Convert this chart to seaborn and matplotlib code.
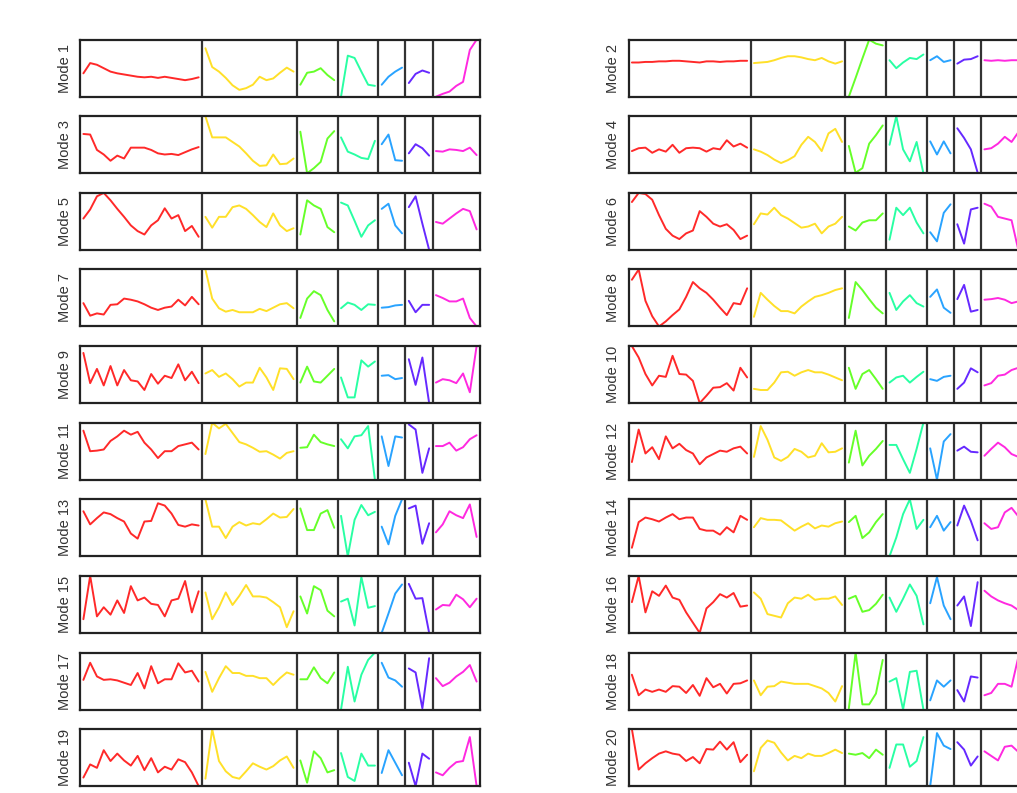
import matplotlib
matplotlib.use("Agg")
import matplotlib.pyplot as plt
import numpy as np
import pandas as pd
import seaborn as sns

# points per block, left to right
segment_sizes = [18, 14, 6, 6, 4, 4, 7]
segment_names = ["A", "B", "C", "D", "E", "F", "G"]

# values, 0 = bottom of the panel, 100 = top
mode_01 = [41, 59, 56, 50, 44, 41, 39, 37, 35, 34, 35, 33, 35, 33, 31, 29, 31, 34,
           85, 52, 44, 33, 20, 12, 15, 21, 35, 29, 32, 42, 51, 44,
           21, 42, 44, 50, 38, 29,
           0, 72, 68, 44, 21, 19,
           21, 35, 44, 51,
           24, 40, 46, 42,
           0, 5, 9, 19, 26, 82, 100]
mode_02 = [60, 60, 61, 61, 62, 62, 63, 63, 62, 61, 60, 62, 62, 61, 62, 62, 63, 63,
           59, 60, 61, 64, 68, 71, 71, 69, 66, 64, 68, 62, 58, 62,
           0, 33, 67, 100, 93, 90,
           64, 50, 60, 68, 66, 74,
           64, 71, 61, 64,
           58, 65, 66, 71,
           64, 63, 64, 63, 64, 64, 63]
mode_03 = [69, 68, 41, 33, 22, 31, 26, 45, 45, 45, 41, 35, 33, 34, 32, 37, 42, 46,
           100, 63, 63, 63, 55, 47, 35, 22, 13, 14, 33, 16, 17, 26,
           73, 0, 9, 20, 61, 74,
           63, 38, 33, 27, 25, 57,
           51, 68, 23, 22,
           35, 51, 44, 31,
           39, 38, 42, 41, 39, 45, 32]
mode_04 = [39, 44, 45, 36, 42, 38, 50, 36, 44, 45, 44, 38, 44, 42, 58, 47, 52, 45,
           42, 38, 32, 24, 18, 23, 30, 50, 64, 55, 39, 70, 78, 55,
           48, 1, 9, 52, 67, 84,
           50, 100, 42, 21, 55, 0,
           56, 33, 56, 35,
           79, 62, 42, 1,
           42, 44, 52, 64, 55, 72, 78]
mode_05 = [55, 71, 94, 100, 87, 72, 58, 43, 33, 27, 43, 52, 73, 55, 61, 33, 42, 23,
           58, 39, 58, 58, 75, 78, 72, 61, 49, 40, 64, 43, 33, 38,
           27, 87, 78, 72, 40, 31,
           83, 78, 51, 23, 43, 52,
           72, 81, 43, 29,
           75, 94, 46, 0,
           49, 46, 55, 64, 72, 68, 36]
mode_06 = [84, 100, 98, 88, 61, 37, 25, 19, 29, 34, 68, 58, 46, 41, 45, 35, 19, 25,
           45, 64, 62, 74, 61, 55, 47, 39, 41, 46, 29, 41, 46, 58,
           41, 34, 48, 52, 52, 64,
           18, 74, 61, 74, 48, 29,
           31, 15, 65, 80,
           45, 11, 71, 74,
           81, 76, 58, 55, 52, 0, 5]
mode_07 = [41, 19, 23, 21, 38, 39, 49, 47, 44, 39, 33, 29, 33, 35, 47, 37, 52, 39,
           100, 49, 32, 26, 29, 25, 25, 25, 31, 27, 33, 39, 41, 32,
           15, 49, 62, 55, 29, 9,
           32, 42, 38, 29, 39, 38,
           33, 34, 37, 38,
           45, 25, 38, 38,
           55, 50, 44, 44, 49, 15, 0]
mode_08 = [82, 100, 45, 18, 0, 9, 20, 30, 52, 78, 67, 59, 47, 33, 20, 41, 39, 67,
           17, 59, 47, 36, 27, 27, 23, 35, 44, 52, 55, 59, 64, 67,
           15, 78, 64, 48, 33, 23,
           59, 29, 44, 55, 41, 35,
           52, 65, 33, 24,
           48, 73, 26, 29,
           47, 48, 50, 47, 41, 44, 46]
mode_09 = [88, 35, 60, 31, 65, 31, 58, 40, 38, 23, 51, 34, 48, 44, 68, 40, 55, 35,
           52, 58, 46, 52, 42, 29, 36, 36, 62, 45, 23, 61, 60, 42,
           36, 64, 38, 36, 48, 60,
           45, 10, 10, 75, 64, 73,
           48, 49, 42, 44,
           77, 32, 80, 0,
           36, 42, 40, 35, 52, 19, 100]
mode_10 = [100, 80, 51, 31, 48, 46, 83, 51, 50, 39, 0, 13, 27, 28, 35, 22, 62, 45,
           25, 23, 23, 36, 54, 55, 48, 54, 58, 54, 54, 50, 45, 40,
           62, 25, 51, 58, 42, 25,
           36, 45, 48, 36, 46, 55,
           42, 39, 46, 48,
           25, 36, 61, 54,
           31, 35, 48, 50, 58, 62, 64]
mode_11 = [86, 50, 51, 53, 68, 76, 86, 79, 84, 65, 53, 38, 50, 50, 59, 62, 65, 53,
           45, 100, 90, 98, 82, 66, 62, 56, 49, 50, 44, 37, 47, 50,
           56, 57, 79, 66, 62, 59,
           71, 55, 76, 78, 94, 0,
           76, 24, 76, 74,
           97, 88, 12, 55,
           59, 59, 65, 51, 57, 71, 78]
mode_12 = [31, 88, 46, 57, 36, 76, 55, 63, 52, 46, 27, 39, 45, 51, 49, 55, 58, 46,
           40, 94, 70, 39, 33, 40, 54, 49, 39, 42, 64, 48, 49, 55,
           30, 86, 25, 42, 54, 68,
           61, 61, 36, 12, 54, 100,
           55, 0, 67, 80,
           51, 58, 49, 48,
           42, 54, 65, 57, 45, 40, 44]
mode_13 = [79, 56, 67, 77, 74, 67, 61, 40, 31, 61, 62, 93, 89, 75, 55, 52, 56, 54,
           100, 52, 52, 32, 52, 60, 54, 58, 56, 65, 75, 68, 69, 83,
           84, 46, 46, 75, 81, 50,
           71, 0, 64, 90, 72, 78,
           52, 21, 71, 100,
           84, 89, 22, 58,
           42, 56, 79, 72, 67, 91, 34]
mode_14 = [15, 60, 68, 65, 61, 68, 74, 65, 68, 68, 48, 45, 45, 38, 51, 42, 71, 64,
           51, 67, 64, 64, 63, 54, 45, 52, 58, 49, 54, 52, 58, 61,
           60, 71, 32, 42, 60, 74,
           0, 33, 74, 100, 48, 64,
           51, 71, 45, 60,
           54, 89, 62, 28,
           58, 48, 51, 77, 85, 70, 60]
mode_15 = [24, 100, 29, 45, 32, 57, 35, 82, 57, 62, 51, 49, 29, 57, 60, 91, 36, 73,
           71, 24, 45, 71, 49, 65, 84, 64, 64, 62, 54, 45, 10, 38,
           64, 34, 82, 75, 39, 29,
           55, 60, 13, 98, 44, 47,
           0, 34, 69, 85,
           86, 60, 61, 0,
           41, 49, 48, 67, 59, 45, 60]
mode_16 = [54, 100, 36, 73, 65, 83, 62, 58, 36, 18, 0, 43, 54, 68, 62, 70, 46, 48,
           71, 60, 33, 30, 27, 52, 62, 60, 67, 58, 60, 60, 64, 49,
           60, 65, 37, 40, 51, 67,
           62, 37, 60, 85, 65, 15,
           52, 98, 48, 24,
           48, 64, 12, 89,
           74, 64, 57, 52, 48, 40, 36]
mode_17 = [52, 82, 58, 52, 53, 51, 47, 43, 64, 37, 76, 46, 53, 53, 81, 65, 68, 49,
           66, 31, 55, 76, 64, 64, 59, 59, 55, 55, 43, 55, 65, 61,
           53, 53, 74, 55, 46, 65,
           0, 75, 14, 61, 87, 100,
           82, 56, 51, 40,
           72, 65, 2, 90,
           55, 41, 47, 58, 66, 78, 49]
mode_18 = [61, 25, 35, 31, 35, 31, 41, 40, 29, 43, 24, 55, 39, 45, 28, 45, 46, 51,
           51, 25, 40, 41, 49, 47, 45, 45, 45, 41, 37, 29, 14, 41,
           2, 100, 9, 9, 28, 87,
           49, 55, 0, 66, 68, 0,
           16, 51, 40, 51,
           34, 14, 58, 56,
           25, 29, 45, 45, 40, 92, 80]
mode_19 = [15, 38, 32, 63, 44, 57, 45, 36, 53, 28, 49, 24, 34, 29, 47, 42, 24, 0,
           13, 100, 44, 26, 16, 13, 26, 40, 34, 29, 35, 45, 52, 32,
           45, 6, 61, 49, 24, 28,
           58, 16, 9, 57, 36, 36,
           23, 63, 41, 19,
           41, 0, 57, 48,
           24, 19, 32, 42, 44, 86, 0]
mode_20 = [100, 29, 40, 49, 57, 61, 57, 55, 44, 51, 40, 65, 64, 78, 64, 77, 42, 55,
           26, 67, 80, 76, 59, 45, 53, 49, 57, 53, 53, 58, 64, 58,
           57, 55, 58, 49, 64, 55,
           32, 73, 73, 34, 44, 86,
           0, 93, 71, 65,
           77, 64, 36, 52,
           61, 53, 45, 69, 71, 60, 55]

modes = [mode_01, mode_02, mode_03, mode_04, mode_05, mode_06, mode_07, mode_08,
         mode_09, mode_10, mode_11, mode_12, mode_13, mode_14, mode_15, mode_16,
         mode_17, mode_18, mode_19, mode_20]

sns.set_style("white")
plt.rcParams["font.family"] = ["Liberation Sans", "DejaVu Sans"]
# evenly spaced hues starting at pure red
palette = sns.hls_palette(len(segment_sizes), h=0.0, l=0.58, s=1.0)

n_points = sum(segment_sizes)
x = np.arange(n_points)
segment = np.repeat(segment_names, segment_sizes)
edges = np.cumsum(segment_sizes)[:-1] - 0.5

W, H = 1017, 793
fig = plt.figure(figsize=(W / 100, H / 100), dpi=100)

for i, vals in enumerate(modes):
    row, col = divmod(i, 2)
    left = 80 if col == 0 else 628.5
    top = 39.7 + 76.6 * row
    ax = fig.add_axes([left / W, 1 - (top + 57) / H, 400 / W, 57 / H])

    df = pd.DataFrame({"x": x, "value": vals, "segment": segment})
    sns.lineplot(data=df, x="x", y="value", hue="segment", palette=palette,
                 legend=False, linewidth=1.4, ax=ax)
    for e in edges:
        ax.axvline(e, color="#333333", linewidth=1.6)

    ax.set_xlim(-0.5, n_points - 0.5)
    ax.set_ylim(min(vals), max(vals))
    ax.set_xticks([])
    ax.set_yticks([])
    ax.set_xlabel("")
    ax.set_ylabel(f"Mode {i + 1}", fontsize=10.5, color="#333333", labelpad=6)
    for s in ax.spines.values():
        s.set_color("#222222")
        s.set_linewidth(1.6)

fig.savefig("out.png", dpi=100)
